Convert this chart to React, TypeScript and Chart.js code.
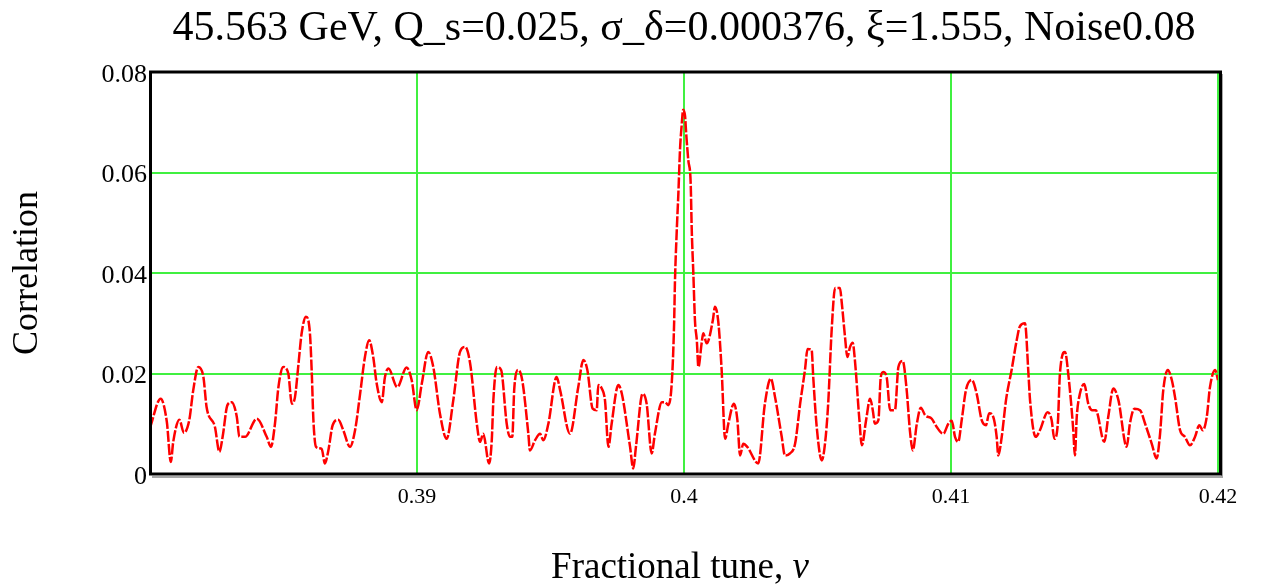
import React, { useEffect, useRef } from 'react';
import { Chart, registerables } from 'chart.js';

Chart.register(...registerables);

const TITLE = '45.563 GeV, Q_s=0.025, σ_δ=0.000376, ξ=1.555, Noise0.08';
const X_TITLE = 'Fractional tune, ';
const X_TITLE_SYMBOL = 'ν';
const Y_TITLE = 'Correlation';
const X_TICKS = [0.38, 0.39, 0.4, 0.41, 0.42];
const X_TICK_LABELS = ['', '0.39', '0.4', '0.41', '0.42'];
const Y_TICKS = [0, 0.02, 0.04, 0.06, 0.08];
const Y_TICK_LABELS = ['0', '0.02', '0.04', '0.06', '0.08'];

const NU = [
  0.38, 0.3804, 0.38063, 0.38078, 0.38087, 0.3811, 0.38127, 0.38147, 0.38162, 0.38181,
  0.382, 0.38212, 0.38243, 0.3826, 0.38272, 0.3829, 0.38306, 0.38325, 0.38335, 0.38356,
  0.384, 0.38437, 0.38453, 0.38468, 0.38481, 0.38499, 0.38518, 0.38531, 0.38543, 0.38555,
  0.38568, 0.38584, 0.38599, 0.38606, 0.38612, 0.38622, 0.38643, 0.38655, 0.38668, 0.38684,
  0.38705, 0.38724, 0.38749, 0.38768, 0.38787, 0.38805, 0.38821, 0.38836, 0.38849, 0.38868,
  0.3888, 0.38893, 0.38926, 0.38961, 0.3898, 0.38999, 0.39018, 0.39042, 0.39061, 0.39086,
  0.39111, 0.39136, 0.39161, 0.3918, 0.39199, 0.39224, 0.39236, 0.39248, 0.3927, 0.3928,
  0.39286, 0.39299, 0.39315, 0.39336, 0.39348, 0.39357, 0.39364, 0.39379, 0.39394, 0.39417,
  0.39423, 0.39442, 0.39461, 0.39473, 0.39492, 0.39523, 0.39536, 0.39573, 0.39604, 0.39623,
  0.39638, 0.39658, 0.39673, 0.39679, 0.39692, 0.39704, 0.39717, 0.39729, 0.39754, 0.39767,
  0.39798, 0.3981, 0.3982, 0.39845, 0.3986, 0.39879, 0.39891, 0.39917, 0.39929, 0.39941,
  0.39954, 0.39963, 0.39966, 0.39973, 0.39979, 0.39985, 0.39991, 0.39997, 0.40004, 0.40008,
  0.40016, 0.40025, 0.40029, 0.40035, 0.40041, 0.40048, 0.40054, 0.40066, 0.40072, 0.40085,
  0.40108, 0.40116, 0.40129, 0.40141, 0.40154, 0.40166, 0.40187, 0.402, 0.4021, 0.40222,
  0.40237, 0.40278, 0.40303, 0.40325, 0.40341, 0.40366, 0.40378, 0.40397, 0.40416, 0.40435,
  0.40453, 0.40463, 0.40478, 0.40484, 0.40497, 0.40516, 0.40528, 0.4054, 0.40553, 0.40566,
  0.40584, 0.40591, 0.40603, 0.40612, 0.40622, 0.40632, 0.4064, 0.40657, 0.40666, 0.40682,
  0.40697, 0.40707, 0.40715, 0.40728, 0.40737, 0.40746, 0.40759, 0.40772, 0.4079, 0.40803,
  0.40819, 0.40834, 0.40846, 0.40857, 0.40872, 0.40887, 0.40903, 0.40928, 0.40946, 0.40971,
  0.4099, 0.41003, 0.41015, 0.41027, 0.4104, 0.41056, 0.41078, 0.41096, 0.41115, 0.41131,
  0.41143, 0.41158, 0.41171, 0.41177, 0.4119, 0.41206, 0.41227, 0.41246, 0.41258, 0.41277,
  0.4129, 0.41296, 0.41317, 0.41333, 0.41362, 0.41377, 0.41387, 0.414, 0.41408, 0.41427,
  0.41439, 0.41458, 0.41464, 0.41471, 0.41483, 0.41499, 0.41514, 0.41529, 0.41542, 0.41574,
  0.41589, 0.41608, 0.41627, 0.41658, 0.4167, 0.41687, 0.41708, 0.41727, 0.41752, 0.4177,
  0.41783, 0.41795, 0.41812, 0.41827, 0.41839, 0.41858, 0.41876, 0.41895, 0.41914, 0.4193,
  0.41943, 0.41958, 0.4197, 0.41989, 0.42,
];

const CORR = [
  0.0092, 0.015, 0.0104, 0.0024, 0.0064, 0.0108, 0.0082, 0.0107, 0.0167, 0.0213,
  0.0193, 0.0133, 0.0094, 0.0044, 0.0074, 0.0137, 0.0143, 0.0114, 0.0074, 0.0074,
  0.011, 0.0074, 0.0054, 0.01, 0.0173, 0.0213, 0.02, 0.014, 0.0153, 0.0213,
  0.028, 0.0313, 0.028, 0.02, 0.0107, 0.0054, 0.005, 0.0021, 0.0047, 0.0097,
  0.0108, 0.0087, 0.0054, 0.0087, 0.016, 0.0233, 0.0266, 0.0233, 0.018, 0.0143,
  0.0193, 0.021, 0.0173, 0.0212, 0.0187, 0.0127, 0.018, 0.0243, 0.0213, 0.012,
  0.007, 0.0147, 0.0243, 0.0253, 0.022, 0.01, 0.0064, 0.008, 0.0021, 0.0067,
  0.0147, 0.0213, 0.0207, 0.01, 0.0074, 0.0074, 0.0167, 0.0207, 0.0187, 0.008,
  0.0047, 0.0067, 0.008, 0.0067, 0.01, 0.0193, 0.0167, 0.008, 0.0173, 0.0227,
  0.0207, 0.013, 0.0127, 0.0177, 0.017, 0.0147, 0.0054, 0.01, 0.0177, 0.016,
  0.0054, 0.0011, 0.0054, 0.016, 0.014, 0.0041, 0.008, 0.0143, 0.0143, 0.0137,
  0.018, 0.03, 0.038, 0.0486, 0.0559, 0.0645, 0.0692, 0.0725, 0.0712, 0.0679,
  0.0625, 0.0579, 0.0486, 0.0399, 0.0306, 0.0266, 0.0213, 0.026, 0.028, 0.026,
  0.0306, 0.0333, 0.03, 0.0207, 0.007, 0.01, 0.014, 0.0107, 0.0037, 0.006,
  0.0054, 0.0021, 0.014, 0.019, 0.0153, 0.0074, 0.0037, 0.0041, 0.006, 0.014,
  0.0207, 0.0249, 0.0247, 0.0193, 0.0094, 0.0027, 0.006, 0.014, 0.0286, 0.037,
  0.037, 0.034, 0.0273, 0.0233, 0.0253, 0.0261, 0.0227, 0.0107, 0.0057, 0.0107,
  0.015, 0.0127, 0.01, 0.0107, 0.0193, 0.0203, 0.0193, 0.0127, 0.0127, 0.0213,
  0.0225, 0.0167, 0.0087, 0.0047, 0.01, 0.0132, 0.0117, 0.011, 0.0094, 0.008,
  0.01, 0.0106, 0.0074, 0.0064, 0.0107, 0.0167, 0.0187, 0.016, 0.0107, 0.0097,
  0.0121, 0.0114, 0.0074, 0.0037, 0.0074, 0.0147, 0.0207, 0.0266, 0.0294, 0.03,
  0.02, 0.0147, 0.0074, 0.0087, 0.0123, 0.0107, 0.007, 0.01, 0.02, 0.0243,
  0.02, 0.0087, 0.0037, 0.0114, 0.016, 0.0179, 0.014, 0.0127, 0.0127, 0.0064,
  0.0114, 0.017, 0.0147, 0.0054, 0.01, 0.013, 0.0127, 0.01, 0.006, 0.0031,
  0.008, 0.0167, 0.0207, 0.0187, 0.0153, 0.0087, 0.0074, 0.0057, 0.0074, 0.0097,
  0.0087, 0.0114, 0.0173, 0.0207, 0.0187,
];

const SERIF = '"Liberation Serif", "Times New Roman", serif';

function labelFor(ticks: number[], labels: string[], v: number): string {
  const i = ticks.findIndex((t) => Math.abs(t - v) < 1e-9);
  return i >= 0 ? labels[i] : '';
}

export default function App() {
  const ref = useRef<HTMLCanvasElement>(null);

  useEffect(() => {
    if (!ref.current) return;
    const framePlugin = {
      id: 'frame',
      afterDatasetsDraw(chart: any) {
        const { ctx, chartArea: a } = chart;
        ctx.save();
        ctx.strokeStyle = '#a8a8a8';
        ctx.lineWidth = 2;
        ctx.beginPath();
        ctx.moveTo(a.left + 2, a.bottom + 3);
        ctx.lineTo(a.right + 4, a.bottom + 3);
        ctx.lineTo(a.right + 4, a.top + 2);
        ctx.stroke();
        ctx.strokeStyle = '#000';
        ctx.lineWidth = 3;
        ctx.strokeRect(a.left + 0.5, a.top, a.right - a.left + 2, a.bottom - a.top);
        ctx.restore();
      },
      afterDraw(chart: any) {
        const { ctx, chartArea: a } = chart;
        ctx.save();
        ctx.fillStyle = '#000';
        ctx.textBaseline = 'middle';
        ctx.textAlign = 'left';
        const normal = `37px ${SERIF}`;
        const italic = `italic 37px ${SERIF}`;
        ctx.font = normal;
        const w1 = ctx.measureText(X_TITLE).width;
        ctx.font = italic;
        const w2 = ctx.measureText(X_TITLE_SYMBOL).width;
        const cx = (a.left + a.right) / 2 - 4;
        const x0 = cx - (w1 + w2) / 2;
        const y = 568;
        ctx.font = normal;
        ctx.fillText(X_TITLE, x0, y);
        ctx.font = italic;
        ctx.fillText(X_TITLE_SYMBOL, x0 + w1, y);
        ctx.restore();
      },
    };

    const chart = new Chart(ref.current, {
      type: 'line',
      data: {
        datasets: [
          {
            data: NU.map((x, i) => ({ x, y: CORR[i] })),
            borderColor: '#ff0000',
            borderWidth: 2.5,
            borderDash: [11, 2],
            pointRadius: 0,
            cubicInterpolationMode: 'monotone',
            tension: 0.4,
            fill: false,
          },
        ],
      },
      options: {
        responsive: false,
        animation: false,
        layout: { padding: { left: 0, right: 47, top: 0, bottom: 0 } },
        plugins: {
          legend: { display: false },
          tooltip: { enabled: false },
          title: {
            display: true,
            text: TITLE,
            color: '#000',
            fullSize: false,
            font: { family: SERIF, size: 42, weight: 'normal' },
            padding: { top: 4, bottom: 17.6 },
          },
        },
        scales: {
          x: {
            type: 'linear',
            min: 0.38,
            max: 0.42,
            afterBuildTicks: (ax: any) => {
              ax.ticks = X_TICKS.map((v) => ({ value: v }));
            },
            afterFit: (ax: any) => {
              ax.height = 112;
              ax.paddingLeft = 0;
              ax.paddingRight = 0;
            },
            ticks: {
              autoSkip: false,
              maxRotation: 0,
              padding: 10,
              color: '#000',
              font: { family: SERIF, size: 22 },
              callback: (v: any) => labelFor(X_TICKS, X_TICK_LABELS, Number(v)),
            },
            grid: { color: '#40f040', lineWidth: 2, drawTicks: false },
            border: { display: false },
            title: { display: false },
          },
          y: {
            type: 'linear',
            min: 0,
            max: 0.08,
            afterBuildTicks: (ax: any) => {
              ax.ticks = Y_TICKS.map((v) => ({ value: v }));
            },
            afterFit: (ax: any) => {
              ax.width = 150;
              ax.paddingTop = 0;
              ax.paddingBottom = 0;
            },
            ticks: {
              autoSkip: false,
              padding: 3,
              labelOffset: 3,
              color: '#000',
              font: { family: SERIF, size: 26 },
              callback: (v: any) => labelFor(Y_TICKS, Y_TICK_LABELS, Number(v)),
            },
            grid: { color: '#40f040', lineWidth: 2, drawTicks: false },
            border: { display: false },
            title: {
              display: true,
              text: Y_TITLE,
              color: '#000',
              font: { family: SERIF, size: 36 },
              padding: { top: 6, bottom: 0 },
            },
          },
        },
      },
      plugins: [framePlugin],
    } as any);

    return () => chart.destroy();
  }, []);

  return (
    <div style={{ position: 'fixed', left: 0, top: 0, width: 1265, height: 586, background: '#fff' }}>
      <canvas ref={ref} width={1265} height={586} style={{ display: 'block' }} />
    </div>
  );
}
